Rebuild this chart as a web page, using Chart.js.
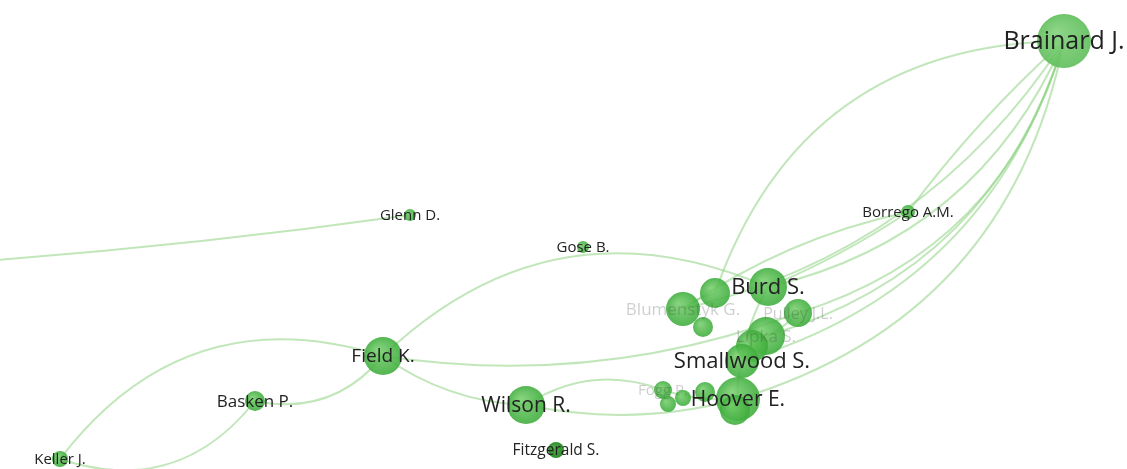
<!DOCTYPE html>
<html>
<head>
<meta charset="utf-8">
<script src="https://cdn.jsdelivr.net/npm/chart.js@4"></script>
<style>
  html, body { margin: 0; padding: 0; background: #fff; }
  canvas { display: block; }
</style>
</head>
<body>
<canvas id="networkChart" width="1127" height="469"></canvas>
<script>
// Author nodes (map coordinates, weight = bubble radius)
const nodeIds = ['brainard', 'borrego', 'glenn', 'gose', 'burd', 'c1', 'blumenstyk', 'pulley', 'lipka', 'c2', 'c3',
    'smallwood', 'hoover', 'c4', 'fogg', 'c5', 'c6', 'c7', 'field', 'basken', 'keller', 'wilson', 'fitzgerald', 'ext'];
const nodeLabels = ['Brainard J.', 'Borrego A.M.', 'Glenn D.', 'Gose B.', 'Burd S.', '', 'Blumenstyk G.', 'Pulley J.L.', 'Lipka S.', '', '',
    'Smallwood S.', 'Hoover E.', '', 'Fogg P.', '', '', '', 'Field K.', 'Basken P.', 'Keller J.', 'Wilson R.', 'Fitzgerald S.', ''];
const nodeX = [1064, 908, 410, 583, 768, 715, 683, 798, 766, 703, 752, 742, 738, 735, 663, 683, 668, 705, 383, 255, 60, 526, 556, -120];
const nodeY = [41, 212, 215, 247, 287, 293, 309, 313, 336, 327, 346, 361, 399, 410, 390, 398, 404, 392, 356, 401, 459, 405, 450, 268];
const nodeWeight = [27, 7, 6, 6, 19, 15, 17, 14, 19, 10, 16, 17, 22, 15, 9, 8, 8, 10, 19, 10, 8, 19, 8, 0];
const fadedLabels = ['Blumenstyk G.', 'Pulley J.L.', 'Lipka S.', 'Fogg P.'];

// Links between authors, bend = curvature of the drawn arc
const edgeFrom = ['glenn', 'keller', 'keller', 'basken', 'field', 'field', 'field', 'wilson', 'wilson',
    'brainard', 'brainard', 'borrego', 'brainard', 'brainard', 'brainard', 'brainard', 'brainard', 'brainard',
    'blumenstyk', 'burd', 'c1', 'smallwood', 'fogg', 'lipka'];
const edgeTo = ['ext', 'field', 'basken', 'field', 'wilson', 'burd', 'pulley', 'fogg', 'hoover',
    'c1', 'borrego', 'burd', 'burd', 'blumenstyk', 'pulley', 'lipka', 'smallwood', 'hoover',
    'borrego', 'smallwood', 'blumenstyk', 'hoover', 'hoover', 'pulley'];
const edgeBend = [-0.02, -0.35, 0.35, 0.3, 0.15, -0.33, 0.13, -0.25, 0.12,
    0.35, 0.05, -0.05, -0.25, -0.2, -0.27, -0.27, -0.27, -0.3,
    -0.1, 0.1, 0.1, 0.1, 0.1, 0.1];

// Label font sizes (px) by author name
const labelFontSize = {
    'Brainard J.': 25, 'Borrego A.M.': 15, 'Glenn D.': 15, 'Gose B.': 15, 'Burd S.': 22,
    'Blumenstyk G.': 17, 'Pulley J.L.': 16, 'Lipka S.': 17, 'Smallwood S.': 22, 'Hoover E.': 21,
    'Fogg P.': 15, 'Field K.': 19, 'Basken P.': 17, 'Keller J.': 15, 'Wilson R.': 21, 'Fitzgerald S.': 15.5,
};

const points = nodeIds.map((id, i) => ({ x: nodeX[i], y: nodeY[i], r: nodeWeight[i] }));

// Shaded green bubbles
function nodeColor( context ) {
    const chart = context.chart;
    const p = context.raw;
    if (!chart.chartArea || !p) return 'rgba(80,180,80,0.85)';
    const px = chart.scales.x.getPixelForValue(p.x);
    const py = chart.scales.y.getPixelForValue(p.y);
    const r = Math.max(p.r, 1);
    const g = chart.ctx.createRadialGradient(px - r * 0.3, py - r * 0.35, 0, px, py, r);
    const id = nodeIds[context.dataIndex];
    if (id === 'brainard') {
        g.addColorStop(0, 'rgba(130,210,125,0.9)');
        g.addColorStop(1, 'rgba(95,190,90,0.9)');
    } else if (id === 'fitzgerald') {
        g.addColorStop(0, 'rgba(70,170,60,0.95)');
        g.addColorStop(1, 'rgba(35,135,35,0.95)');
    } else {
        g.addColorStop(0, 'rgba(115,205,105,0.85)');
        g.addColorStop(1, 'rgba(60,172,58,0.88)');
    }
    return g;
}

// Draw curved links under the bubbles
const linksPlugin = {
    id: 'links',
    beforeDatasetsDraw( chart ) {
        const ctx = chart.ctx;
        const xs = chart.scales.x;
        const ys = chart.scales.y;
        ctx.save();
        ctx.strokeStyle = 'rgba(140,210,130,0.55)';
        ctx.lineWidth = 2;
        edgeFrom.forEach((from, i) => {
            const a = nodeIds.indexOf(from);
            const b = nodeIds.indexOf(edgeTo[i]);
            const x1 = xs.getPixelForValue(nodeX[a]);
            const y1 = ys.getPixelForValue(nodeY[a]);
            const x2 = xs.getPixelForValue(nodeX[b]);
            const y2 = ys.getPixelForValue(nodeY[b]);
            const dx = x2 - x1;
            const dy = y2 - y1;
            const cx = (x1 + x2) / 2 - dy * edgeBend[i];
            const cy = (y1 + y2) / 2 + dx * edgeBend[i];
            ctx.beginPath();
            ctx.moveTo(x1, y1);
            ctx.quadraticCurveTo(cx, cy, x2, y2);
            ctx.stroke();
        });
        ctx.restore();
    }
};

// Author names on top of the bubbles
const labelsPlugin = {
    id: 'labels',
    afterDatasetsDraw( chart ) {
        const ctx = chart.ctx;
        const xs = chart.scales.x;
        const ys = chart.scales.y;
        ctx.save();
        ctx.textAlign = 'center';
        ctx.textBaseline = 'middle';
        nodeLabels.forEach((label, i) => {
            if (!label) return;
            ctx.font = (labelFontSize[label] || 14) + 'px "Open Sans", sans-serif';
            ctx.fillStyle = fadedLabels.includes(label) ? 'rgba(60,60,60,0.25)' : '#222';
            ctx.fillText(label, xs.getPixelForValue(nodeX[i]), ys.getPixelForValue(nodeY[i]) + 1);
        });
        ctx.restore();
    }
};

const ctx = document.getElementById('networkChart').getContext('2d');
const networkChart = new Chart(ctx, {
    type: 'bubble',
    data: {
        datasets: [{
            label: 'Authors',
            data: points,
            backgroundColor: nodeColor,
            borderWidth: 0,
            hoverBorderWidth: 0,
            clip: false,
        }],
    },
    options: {
        responsive: false,
        animation: false,
        layout: { padding: 0, autoPadding: false },
        plugins: {
            legend: { display: false },
            tooltip: { enabled: false },
        },
        scales: {
            x: { type: 'linear', min: 0, max: 1127, display: false },
            y: { type: 'linear', min: 0, max: 469, reverse: true, display: false },
        },
    },
    plugins: [linksPlugin, labelsPlugin],
});
</script>
</body>
</html>
